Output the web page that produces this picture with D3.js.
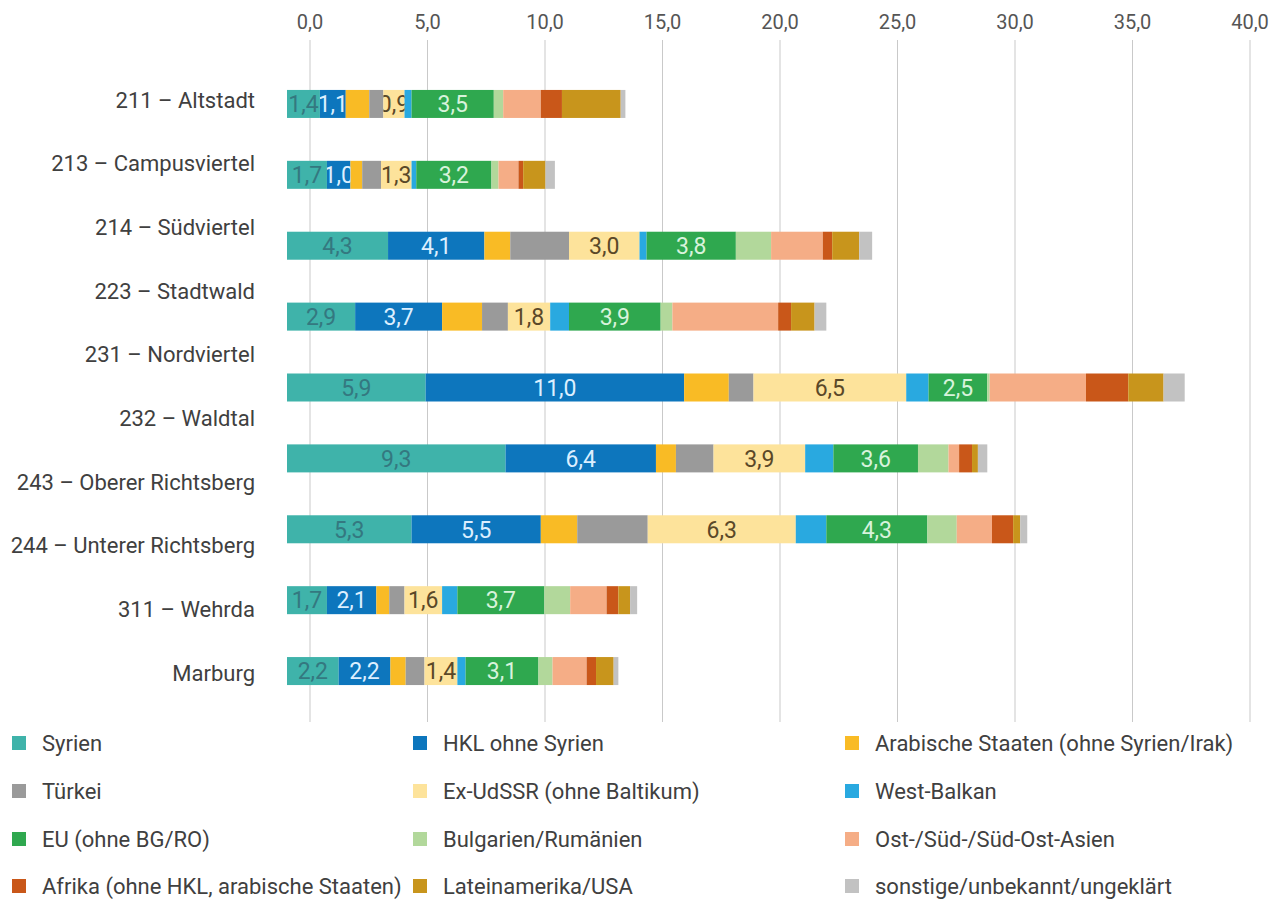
<!DOCTYPE html>
<html><head><meta charset="utf-8">
<script src="https://cdn.jsdelivr.net/npm/d3@7"></script>
<style>
body{margin:0;background:#fff;}
svg{display:block;font-family:Roboto,"Noto Sans",sans-serif;}
</style></head>
<body><svg id="chart" width="1284" height="900"></svg>
<script>
// Category labels on the axis (10) – the reference draws only 9 bars under them
const districts = ["211 – Altstadt","213 – Campusviertel","214 – Südviertel","223 – Stadtwald","231 – Nordviertel","232 – Waldtal","243 – Oberer Richtsberg","244 – Unterer Richtsberg","311 – Wehrda","Marburg"];
const barRows = ["r1","r2","r3","r4","r5","r6","r7","r8","r9"];
const seriesNames = ["Syrien","HKL ohne Syrien","Arabische Staaten (ohne Syrien/Irak)","Türkei","Ex-UdSSR (ohne Baltikum)","West-Balkan","EU (ohne BG/RO)","Bulgarien/Rumänien","Ost-/Süd-/Süd-Ost-Asien","Afrika (ohne HKL, arabische Staaten)","Lateinamerika/USA","sonstige/unbekannt/ungeklärt"];
const seriesColors = ["#3fb3aa","#0d76bd","#f9bb25","#9a9a9a","#fde39b","#29a9e0","#2fa84f","#b2d89b","#f5ad86","#c95719","#c8951c","#c2c2c2"];
const labeledSeries = ["Syrien","HKL ohne Syrien","Ex-UdSSR (ohne Baltikum)","EU (ohne BG/RO)"];
const labelColors = ["#347880","#dcefff",null,null,"#5a4828",null,"#d8f3dc",null,null,null,null,null];
// values per series, one entry per bar row
const syrien      = [1.4,1.7,4.3,2.9,5.9,9.3,5.3,1.7,2.2];
const hkl         = [1.1,1.0,4.1,3.7,11.0,6.4,5.5,2.1,2.2];
const arab        = [1.0,0.5,1.1,1.7,1.9,0.85,1.55,0.55,0.65];
const tuerkei     = [0.6,0.8,2.5,1.1,1.05,1.6,3.0,0.65,0.8];
const exUdSSR     = [0.9,1.3,3.0,1.8,6.5,3.9,6.3,1.6,1.4];
const westBalkan  = [0.3,0.2,0.3,0.8,0.95,1.2,1.3,0.65,0.35];
const eu          = [3.5,3.2,3.8,3.9,2.5,3.6,4.3,3.7,3.1];
const bgro        = [0.4,0.3,1.5,0.5,0.1,1.3,1.25,1.1,0.6];
const asien       = [1.6,0.85,2.2,4.5,4.1,0.45,1.5,1.55,1.45];
const afrika      = [0.9,0.2,0.4,0.55,1.8,0.55,0.9,0.5,0.4];
const latein      = [2.5,0.95,1.15,1.0,1.5,0.25,0.3,0.5,0.75];
const sonstige    = [0.2,0.4,0.55,0.5,0.9,0.4,0.3,0.3,0.2];
const xTicks = [0,5,10,15,20,25,30,35,40];

const allSeries = [syrien,hkl,arab,tuerkei,exUdSSR,westBalkan,eu,bgro,asien,afrika,latein,sonstige];
const table = barRows.map((r,i)=>{const o={row:r};seriesNames.forEach((s,j)=>o[s]=allSeries[j][i]);return o;});

const svg = d3.select("#chart");
const fmt = v => d3.format(".1f")(v).replace(".",",");

// axis scale (gridlines/ticks) and bar scale (bars start left of the 0 line, as in the reference)
const xAxisScale = d3.scaleLinear().domain([0,40]).range([310,1250]);
const xBar = d3.scaleLinear().domain([0,40]).range([287,1227]);
const yLab = d3.scaleBand().domain(districts).range([68,705]);
const yBar = d3.scaleBand().domain(barRows).range([68.5,706.5]).paddingInner(0.605).paddingOuter(0.3025);
const color = d3.scaleOrdinal().domain(seriesNames).range(seriesColors);

// gridlines
svg.append("g").selectAll("line").data(xTicks).join("line")
  .attr("x1",d=>xAxisScale(d)).attr("x2",d=>xAxisScale(d))
  .attr("y1",40).attr("y2",722).attr("stroke","#c9c9c9").attr("stroke-width",1);

// top tick labels
svg.append("g").selectAll("text").data(xTicks).join("text")
  .attr("x",d=>xAxisScale(d)).attr("y",29).attr("text-anchor","middle")
  .attr("font-size",20).attr("fill","#555")
  .text(fmt);

// category labels
svg.append("g").selectAll("text").data(districts).join("text")
  .attr("x",255).attr("y",d=>yLab(d)+yLab.bandwidth()/2).attr("dy","0.35em")
  .attr("text-anchor","end").attr("font-size",22).attr("fill","#404040").text(d=>d);

const stacked = d3.stack().keys(seriesNames)(table);
const defs = svg.append("defs");
const gBars = svg.append("g");
stacked.forEach((layer,si)=>{
  const g = gBars.append("g").attr("fill",color(layer.key));
  g.selectAll("rect").data(layer).join("rect")
    .attr("x",d=>xBar(d[0])).attr("width",d=>xBar(d[1])-xBar(d[0]))
    .attr("y",d=>yBar(d.data.row)).attr("height",yBar.bandwidth());
});
// value labels (clipped to their segment)
const gLab = svg.append("g");
stacked.forEach((layer,si)=>{
  if(!labeledSeries.includes(layer.key)) return;
  layer.forEach((d,ri)=>{
    const id = "c"+si+"_"+ri;
    defs.append("clipPath").attr("id",id).append("rect")
      .attr("x",xBar(d[0])).attr("width",xBar(d[1])-xBar(d[0]))
      .attr("y",yBar(d.data.row)).attr("height",yBar.bandwidth());
    gLab.append("text").attr("clip-path","url(#"+id+")")
      .attr("x",(xBar(d[0])+xBar(d[1]))/2).attr("y",yBar(d.data.row)+yBar.bandwidth()/2)
      .attr("dy","0.36em").attr("text-anchor","middle").attr("font-size",23)
      .attr("fill",labelColors[si]).text(fmt(d[1]-d[0]));
  });
});

// legend
const legX = [12,413,845], legY = [743,791,839,886];
const leg = svg.append("g");
seriesNames.forEach((s,i)=>{
  const cx = legX[i%3], cy = legY[Math.floor(i/3)];
  leg.append("rect").attr("x",cx).attr("y",cy-7).attr("width",14).attr("height",14).attr("fill",color(s));
  leg.append("text").attr("x",cx+30).attr("y",cy).attr("dy","0.35em").attr("font-size",22).attr("fill","#404040").text(s);
});
</script></body></html>
